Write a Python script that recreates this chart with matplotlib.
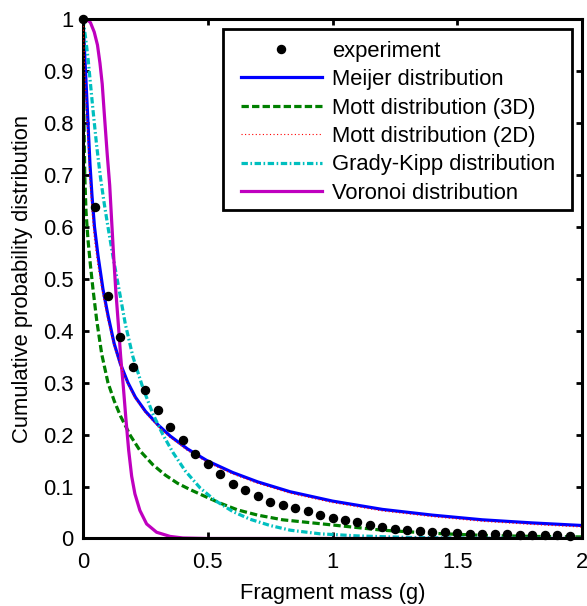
import numpy as np
import matplotlib
matplotlib.use("Agg")
import matplotlib.pyplot as plt
from matplotlib.ticker import FuncFormatter
from matplotlib.patches import Rectangle

plt.rcParams['font.family'] = ['Liberation Sans', 'DejaVu Sans']

# Experiment data
exp_x = [0.00, 0.05, 0.10, 0.15, 0.20, 0.25, 0.30, 0.35, 0.40, 0.45,
         0.50, 0.55, 0.60, 0.65, 0.70, 0.75, 0.80, 0.85, 0.90, 0.95,
         1.00, 1.05, 1.10, 1.15, 1.20, 1.25, 1.30, 1.35, 1.40, 1.45,
         1.50, 1.55, 1.60, 1.65, 1.70, 1.75, 1.80, 1.85, 1.90, 1.95]
exp_y = [1.000, 0.638, 0.467, 0.387, 0.330, 0.285, 0.247, 0.215, 0.189, 0.163,
         0.143, 0.124, 0.105, 0.093, 0.081, 0.070, 0.065, 0.059, 0.053, 0.046,
         0.040, 0.035, 0.031, 0.026, 0.023, 0.019, 0.016, 0.014, 0.013, 0.012,
         0.010, 0.009, 0.009, 0.008, 0.008, 0.007, 0.007, 0.006, 0.006, 0.005]

# Meijer distribution
meijer_x = [0.0, 0.005, 0.012, 0.020, 0.028, 0.036, 0.046, 0.060, 0.080, 0.100,
            0.125, 0.150, 0.180, 0.210, 0.250, 0.300, 0.350, 0.420, 0.500, 0.600,
            0.700, 0.830, 1.000, 1.200, 1.400, 1.600, 1.800, 2.000]
meijer_y = [1.000, 0.950, 0.880, 0.800, 0.720, 0.660, 0.600, 0.545, 0.480, 0.430,
            0.375, 0.336, 0.300, 0.272, 0.245, 0.219, 0.197, 0.172, 0.149, 0.127,
            0.109, 0.090, 0.072, 0.056, 0.045, 0.036, 0.030, 0.025]

# Mott distribution (3D)
mott3_x = [0.0, 0.002, 0.004, 0.007, 0.012, 0.020, 0.030, 0.040, 0.055, 0.075,
           0.100, 0.125, 0.150, 0.190, 0.230, 0.280, 0.330, 0.380, 0.430, 0.480,
           0.550, 0.620, 0.700, 0.800, 0.900, 1.000, 1.200, 1.400, 1.600, 1.800,
           2.000]
mott3_y = [1.000, 0.900, 0.800, 0.700, 0.630, 0.575, 0.525, 0.480, 0.420, 0.355,
           0.300, 0.265, 0.236, 0.198, 0.168, 0.142, 0.122, 0.106, 0.094, 0.083,
           0.068, 0.055, 0.045, 0.036, 0.031, 0.026, 0.016, 0.010, 0.006, 0.004,
           0.003]

# Mott distribution (2D)
mott2_x = [0.0, 0.005, 0.012, 0.020, 0.028, 0.036, 0.046, 0.060, 0.080, 0.100,
           0.125, 0.150, 0.180, 0.210, 0.250, 0.300, 0.350, 0.420, 0.500, 0.600,
           0.700, 0.830, 1.000, 1.200, 1.400, 1.600, 1.800, 2.000]
mott2_y = [1.000, 0.930, 0.850, 0.770, 0.690, 0.630, 0.575, 0.525, 0.468, 0.420,
           0.370, 0.332, 0.297, 0.269, 0.242, 0.216, 0.194, 0.169, 0.146, 0.124,
           0.106, 0.087, 0.069, 0.053, 0.042, 0.033, 0.027, 0.022]

# Grady-Kipp distribution
gk_x = [0.0, 0.010, 0.020, 0.030, 0.040, 0.055, 0.070, 0.085, 0.100, 0.120,
        0.145, 0.170, 0.200, 0.240, 0.280, 0.320, 0.360, 0.410, 0.470, 0.530,
        0.600, 0.670, 0.750, 0.830, 0.950, 1.100, 1.300, 1.600, 2.000]
gk_y = [1.000, 0.965, 0.925, 0.875, 0.825, 0.755, 0.695, 0.645, 0.600, 0.543,
        0.478, 0.412, 0.350, 0.290, 0.240, 0.200, 0.166, 0.130, 0.097, 0.073,
        0.052, 0.037, 0.025, 0.016, 0.009, 0.005, 0.002, 0.0005, 0.0]

# Voronoi distribution
vor_x = [0.0, 0.015, 0.030, 0.045, 0.058, 0.068, 0.077, 0.085, 0.097, 0.107,
         0.115, 0.122, 0.131, 0.142, 0.151, 0.162, 0.172, 0.183, 0.195, 0.208,
         0.228, 0.255, 0.295, 0.349, 0.40, 0.50, 2.0]
vor_y = [1.0, 1.0, 0.993, 0.975, 0.95, 0.915, 0.875, 0.82, 0.74, 0.68,
         0.61, 0.55, 0.48, 0.41, 0.35, 0.29, 0.23, 0.17, 0.12, 0.086,
         0.054, 0.028, 0.012, 0.004, 0.001, 0.0, 0.0]

x_ticks = [0, 0.5, 1, 1.5, 2]
y_ticks = [0, 0.1, 0.2, 0.3, 0.4, 0.5, 0.6, 0.7, 0.8, 0.9, 1.0]

fig = plt.figure(figsize=(5.87, 6.06), dpi=100)
ax = fig.add_axes([0.1414, 0.1114, 0.8501, 0.8572])

fs = 15.8
ax.plot(exp_x, exp_y, 'o', color='black', markersize=5.8, clip_on=False,
        label='experiment', zorder=5)
ax.plot(meijer_x, meijer_y, '-', color=(0, 0, 1), lw=2.3, label='Meijer distribution')
ax.plot(mott3_x, mott3_y, color=(0, 0.5, 0), lw=2.3, linestyle=(0, (2.3, 1.0)),
        label='Mott distribution (3D)')
ax.plot(mott2_x, mott2_y, color=(1, 0, 0), lw=0.8, linestyle=(0, (1.0, 2.2)),
        label='Mott distribution (2D)', zorder=3)
ax.plot(gk_x, gk_y, color=(0, 0.75, 0.75), lw=2.3, linestyle=(0, (2.0, 0.8, 0.5, 0.8)),
        label='Grady-Kipp distribution')
ax.plot(vor_x, vor_y, '-', color=(0.75, 0, 0.75), lw=2.3, label='Voronoi distribution')

ax.set_xlim(0, 2)
ax.set_ylim(0, 1)
ax.set_xticks(x_ticks)
ax.set_yticks(y_ticks)
fmt = FuncFormatter(lambda v, p: '%g' % v)
ax.xaxis.set_major_formatter(fmt)
ax.yaxis.set_major_formatter(fmt)
ax.tick_params(direction='in', length=4, width=2, top=True, right=True,
               labelsize=fs, colors='black')
ax.tick_params(axis='y', pad=7)
ax.tick_params(axis='x', pad=10)
for s in ax.spines.values():
    s.set_linewidth(2.2)

ax.set_xlabel('Fragment mass (g)', fontsize=fs, labelpad=7)
ax.set_ylabel('Cumulative probability distribution', fontsize=fs, labelpad=7)

# legend frame drawn separately for exact padding
frame = Rectangle((0.2812, 0.6323), 0.9794 - 0.2812, 0.9802 - 0.6323,
                  transform=ax.transAxes, facecolor='white', edgecolor='black',
                  linewidth=2.0, zorder=6)
ax.add_patch(frame)
leg = ax.legend(loc='upper left', bbox_to_anchor=(0.316, 0.9585), borderaxespad=0,
                fontsize=fs, numpoints=1, handlelength=3.7, handletextpad=0.45,
                labelspacing=0.34, borderpad=0.0, frameon=False)
leg.set_zorder(7)

fig.savefig('out.png', dpi=100)
